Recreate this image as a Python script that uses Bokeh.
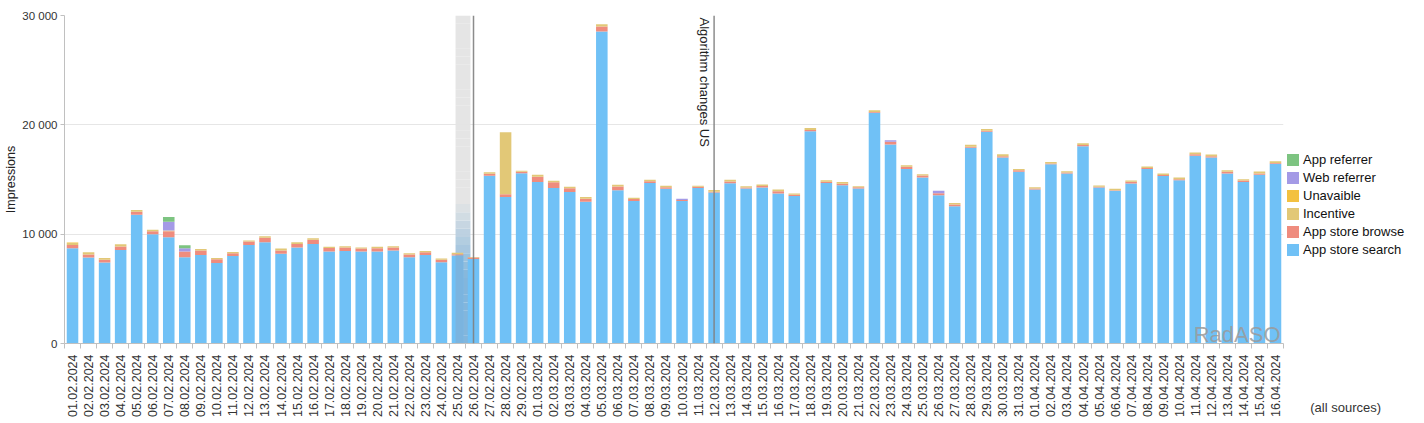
import math
import pandas as pd
from bokeh.plotting import figure
from bokeh.models import (Range1d, FixedTicker, Legend, LegendItem, Span, Label,
                          ColumnDataSource)
from bokeh.embed import file_html
from bokeh.resources import INLINE

# ---- data -------------------------------------------------------------
dates = [d.strftime("%d.%m.%Y") for d in pd.date_range("2024-02-01", "2024-04-16")]

search = [8715, 7860, 7400, 8560, 11770, 10000, 9720, 7890, 8100, 7370,
          8010, 9020, 9270, 8200, 8780, 9110, 8410, 8470, 8410, 8410,
          8500, 7890, 8100, 7430, 8040, 7740, 15350, 13390, 15570,
          14770, 14220, 13850, 12970, 28530, 14010, 13030, 14680, 14160, 13030,
          14220, 13800, 14660, 14180, 14270, 13720, 13480, 19420, 14670, 14480,
          14180, 21100, 18200, 15950, 15180, 13570, 12560, 17900, 19360, 17010,
          15700,
          14090, 16400, 15550, 18050, 14270, 13960, 14640, 15950, 15310, 14940,
          17170, 17010, 15550, 14760, 15430, 16430]
browse = [300, 275, 270, 310, 280, 270, 550, 520, 400, 330,
          250, 300, 400, 310, 330, 370, 330, 310, 270, 310,
          280, 250, 250, 220, 130, 120, 180, 250, 150,
          490, 520, 340, 280, 460, 360, 180, 150, 120, 100,
          120, 90, 150, 80, 130, 210, 120, 100, 130, 140,
          100, 80, 250, 210, 180, 180, 150, 100, 100, 120,
          150,
          90, 60, 80, 100, 60, 60, 150, 100, 100, 90,
          150, 110, 150, 150, 120, 80]
incentive = [170, 215, 160, 210, 150, 130, 60, 0, 150, 130,
             120, 100, 150, 180, 160, 150, 100, 120, 100, 120,
             120, 120, 120, 120, 120, 60, 130, 5690, 90,
             180, 150, 150, 140, 210, 160, 120, 150, 150, 0,
             90, 160, 160, 130, 140, 160, 120, 180, 140, 140,
             110, 160, 0, 150, 130, 0, 130, 170, 150, 190,
             100,
             120, 130, 130, 170, 120, 130, 120, 140, 140, 150,
             150, 170, 150, 120, 180, 170]
unavailable = [50] + [0] * 75
web_ref = [0] * 76
web_ref[6] = 800     # 07.02
web_ref[7] = 300     # 08.02
web_ref[38] = 110    # 10.03
web_ref[51] = 150    # 23.03
web_ref[54] = 210    # 26.03
app_ref = [0] * 76
app_ref[6] = 430     # 07.02
app_ref[7] = 280     # 08.02

series = ["search", "browse", "incentive", "unavailable", "web_ref", "app_ref"]
names = ["App store search", "App store browse", "Incentive", "Unavaible",
         "Web referrer", "App referrer"]
colors = ["#70c1f6", "#ef8c7e", "#e2c877", "#f3c140", "#a49ae6", "#7dc481"]

events = {"26.02.2024": None, "12.03.2024": "Algorithm changes US"}
highlight_day = "25.02.2024"
scope_note = "(all sources)"

n = len(dates)
xs = [i + 0.5 for i in range(n)]
src = ColumnDataSource(dict(x=xs, search=search, browse=browse, incentive=incentive,
                            unavailable=unavailable, web_ref=web_ref, app_ref=app_ref))

FONT = "Liberation Sans"

p = figure(width=1424, height=423, x_range=Range1d(0, n), y_range=Range1d(0, 30000),
           output_backend="svg", toolbar_location=None,
           frame_width=1219, frame_height=328,
           min_border_left=64, min_border_right=141, min_border_top=15,
           min_border_bottom=80)
p.outline_line_color = None
p.background_fill_color = "white"
p.border_fill_color = "white"

# highlight band with a soft vertical fade
hi = dates.index(highlight_day)
steps = 40
top_col = (228, 228, 228)
bot_col = (124, 178, 218)
for k in range(steps):
    y0 = 30000 * k / steps
    y1 = 30000 * (k + 1) / steps
    mid = (y0 + y1) / 2
    t = min(1.0, max(0.0, (mid - 6000) / 7000))
    c = tuple(int(bot_col[j] + (top_col[j] - bot_col[j]) * t) for j in range(3))
    p.quad(left=hi + 0.38, right=hi + 1.31, bottom=y0, top=y1,
           fill_color="#%02x%02x%02x" % c, fill_alpha=0.95, line_color=None)

rs = p.vbar_stack(series, x="x", width=0.72, source=src, color=colors, line_color=None)

# the band also tints the bar it covers
p.quad(left=hi + 0.38, right=hi + 0.86, bottom=0, top=search[hi],
       fill_color="#7cb2da", fill_alpha=0.85, line_color=None)

# event markers
for day, text in events.items():
    xi = dates.index(day) + 0.5
    p.add_layout(Span(location=xi, dimension="height", line_color="#808080",
                      line_width=1.5, line_alpha=0.9))
    if text:
        p.add_layout(Label(x=xi, y=30000, text=text, angle=-math.pi / 2,
                           text_align="left", text_baseline="top", x_offset=-2,
                           y_offset=-2, text_font=FONT, text_font_size="13px",
                           text_color="#222222"))

# watermark
p.add_layout(Label(x=n, y=0, text="RadASO", text_align="right",
                   text_baseline="bottom", x_offset=-3, y_offset=-3,
                   text_font=FONT, text_font_size="22px", text_color="#9a9a9a",
                   text_alpha=0.85))

# axes
p.xgrid.grid_line_color = None
p.ygrid.grid_line_color = "#e6e6e6"
p.ygrid.ticker = FixedTicker(ticks=[10000, 20000, 30000])

p.yaxis.ticker = FixedTicker(ticks=[0, 10000, 20000, 30000])
p.yaxis.major_label_overrides = {0: "0", 10000: "10 000", 20000: "20 000", 30000: "30 000"}
p.yaxis.axis_label = "Impressions"
p.yaxis.axis_label_text_font = FONT
p.yaxis.axis_label_text_font_size = "12.5px"
p.yaxis.axis_label_text_font_style = "normal"
p.yaxis.axis_label_text_color = "#222222"
p.yaxis.axis_label_standoff = 1
p.yaxis.major_label_standoff = 3
p.yaxis.major_label_text_font = FONT
p.yaxis.major_label_text_font_size = "11.5px"
p.yaxis.major_label_text_color = "#333333"
p.yaxis.axis_line_color = "#c0c0c0"
p.yaxis.major_tick_line_color = "#c0c0c0"
p.yaxis.major_tick_out = 4
p.yaxis.major_tick_in = 0
p.yaxis.minor_tick_line_color = None

p.xaxis.ticker = FixedTicker(ticks=xs, minor_ticks=list(range(n + 1)))
p.xaxis.major_label_overrides = {x: d for x, d in zip(xs, dates)}
p.xaxis.major_label_orientation = math.pi / 2
p.xaxis.major_label_text_font = FONT
p.xaxis.major_label_text_font_size = "12.5px"
p.xaxis.major_label_text_color = "#333333"
p.xaxis.major_tick_out = 0
p.xaxis.major_tick_in = 0
p.xaxis.minor_tick_out = 5
p.xaxis.minor_tick_in = 0
p.xaxis.minor_tick_line_color = "#c0c0c0"
p.xaxis.axis_line_color = "#c0c0c0"
p.xaxis.major_label_standoff = 6

# legend (top entry is the top of the stack), with the scope note beneath it
items = [LegendItem(label=names[i], renderers=[rs[i]]) for i in reversed(range(len(rs)))]
legend = Legend(items=items, location=(2, -72), orientation="vertical",
                glyph_width=15, glyph_height=15, label_height=15, spacing=3,
                label_standoff=3, padding=0, margin=0,
                label_text_font=FONT, label_text_font_size="13px",
                label_text_color="#111111", border_line_color=None,
                background_fill_alpha=0,
                title="\u00a0" * 7 + scope_note, title_location="below",
                title_standoff=143, title_text_font=FONT,
                title_text_font_size="13px", title_text_font_style="normal",
                title_text_color="#333333")
p.add_layout(legend, "right")

open("out.html", "w").write(file_html(p, INLINE))
